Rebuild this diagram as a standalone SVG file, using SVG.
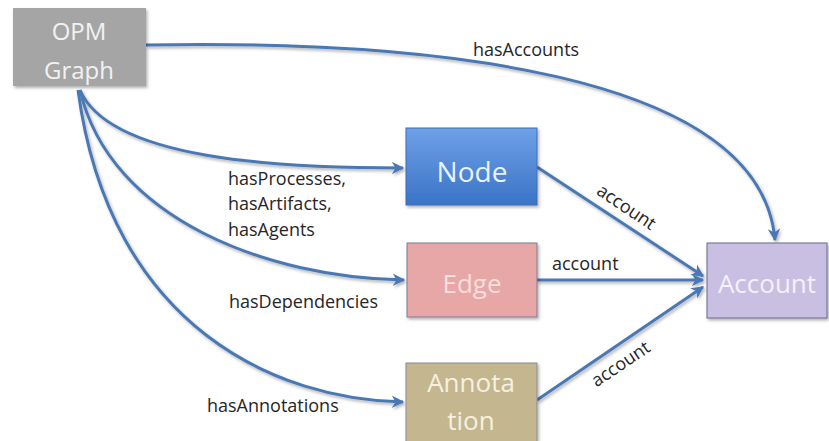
<svg xmlns="http://www.w3.org/2000/svg" width="829" height="441" viewBox="0 0 829 441">
<style>
.lbl{font-family:"Open Sans","Liberation Sans",sans-serif;font-size:18px;fill:#262626}
.nt{font-family:"Open Sans","Liberation Sans",sans-serif;font-size:26px;text-anchor:middle}
.c{fill:none;stroke:#4a78b4;stroke-width:3}
</style>
<defs>
<linearGradient id="gb" x1="0" y1="0" x2="0" y2="1">
<stop offset="0" stop-color="#6fa1e8"/><stop offset="1" stop-color="#3a73c6"/>
</linearGradient>
<marker id="ah" viewBox="0 0 12 12" refX="10" refY="6" markerWidth="5" markerHeight="5" orient="auto" markerUnits="strokeWidth">
<path d="M1,1 L11,6 L1,11 L4,6 Z" fill="#4a78b4"/>
</marker>
<filter id="sh" x="-10%" y="-10%" width="130%" height="130%">
<feDropShadow dx="1.5" dy="2" stdDeviation="1.5" flood-color="#000" flood-opacity="0.3"/>
</filter>
</defs>
<rect width="829" height="441" fill="#ffffff"/>
<g id="connectors" filter="url(#sh)">
<path class="c" d="M146,45 C420,40 760,70 775,240" marker-end="url(#ah)"/>
<path class="c" d="M80,90 C110,160 280,168 403,168" marker-end="url(#ah)"/>
<path class="c" d="M80,90 C110,220 270,278 404,280" marker-end="url(#ah)"/>
<path class="c" d="M78,90 C110,330 280,400 403,402" marker-end="url(#ah)"/>
<path class="c" d="M537,167 L703,276" marker-end="url(#ah)"/>
<path class="c" d="M537,280 L703,280" marker-end="url(#ah)"/>
<path class="c" d="M537,400 L703,287" marker-end="url(#ah)"/>
</g>
<g id="labels">
<text class="lbl" x="473" y="56">hasAccounts</text>
<text class="lbl" x="228" y="185">hasProcesses,</text>
<text class="lbl" x="228" y="210">hasArtifacts,</text>
<text class="lbl" x="228" y="236">hasAgents</text>
<text class="lbl" x="229" y="308">hasDependencies</text>
<text class="lbl" x="207" y="412">hasAnnotations</text>
<text class="lbl" x="552" y="270">account</text>
<text class="lbl" transform="translate(623,212) rotate(34)" text-anchor="middle">account</text>
<text class="lbl" transform="translate(624,369) rotate(-34)" text-anchor="middle">account</text>
</g>
<g id="opm">
<rect x="13" y="8" width="133" height="78" fill="#a5a5a5" filter="url(#sh)"/>
<text class="nt" x="79" y="40" fill="#f2f2f2" style="font-size:24px">OPM</text>
<text class="nt" x="79" y="79" fill="#f2f2f2" style="font-size:24px">Graph</text>
</g>
<g id="node">
<rect x="406" y="128" width="131" height="77" fill="url(#gb)" stroke="#3d6db0" stroke-width="1" filter="url(#sh)"/>
<text class="nt" x="472" y="182" fill="#eaf2fb" style="font-size:28px">Node</text>
</g>
<g id="edge">
<rect x="407" y="243" width="130" height="74" fill="#e8a7a7" stroke="#7a7a9a" stroke-width="1" filter="url(#sh)"/>
<text class="nt" x="472" y="293" fill="#f8dede">Edge</text>
</g>
<g id="annotation">
<rect x="406" y="363" width="131" height="82" fill="#c4b68f" stroke="#8a8a9a" stroke-width="1" filter="url(#sh)"/>
<text class="nt" x="471" y="392" fill="#f6f1e0" style="font-size:26px">Annota</text>
<text class="nt" x="471" y="430" fill="#f6f1e0" style="font-size:26px">tion</text>
</g>
<g id="account">
<rect x="707" y="243" width="120" height="75" fill="#c8bfe2" stroke="#6a6a8a" stroke-width="1" filter="url(#sh)"/>
<text class="nt" x="767" y="293" fill="#f4f1fa">Account</text>
</g>
</svg>
